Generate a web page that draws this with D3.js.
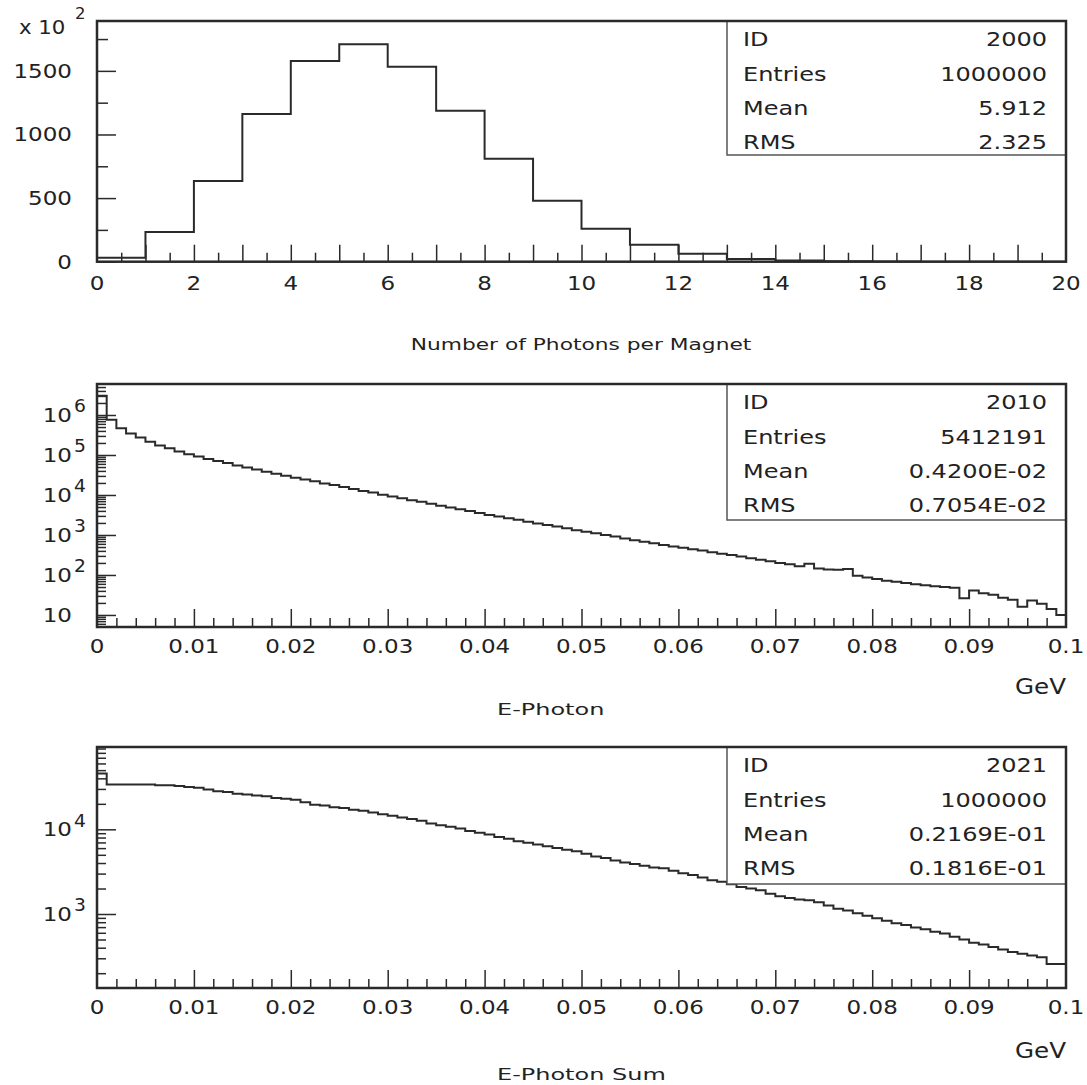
<!DOCTYPE html>
<html><head><meta charset="utf-8">
<script src="https://cdn.jsdelivr.net/npm/d3@7"></script>
<style>
body{margin:0;background:#fff}
text{font-family:"DejaVu Sans",sans-serif;fill:#222}
</style>
</head><body>
<svg id="c" width="1087" height="1085"></svg>
<script>
// ---------------- data ----------------
// Histogram 2000: number of photons per magnet, 20 bins of width 1 (0..20)
const nPhotonCounts = [3100, 23300, 63400, 116100, 157800, 170900, 153300, 118700, 81000, 48000,
                       25900, 13400, 6300, 2100, 1000, 400, 150, 50, 20, 0];
// Histogram 2010: E-Photon, 100 bins of 0.001 GeV (0..0.1)
const ePhotonCounts = [3020000, 759000, 468000, 347000, 275000, 214000, 174000, 148000, 123000, 105000,
  91200, 79400, 70800, 63100, 55000, 49000, 43600, 38000, 33900, 30200,
  26900, 24500, 21900, 19500, 17800, 15800, 14100, 12600, 11500, 10200,
  9120, 8320, 7410, 6760, 6030, 5370, 4900, 4370, 3980, 3550,
  3160, 2880, 2630, 2400, 2140, 1950, 1780, 1620, 1480, 1320,
  1200, 1100, 1000, 912, 813, 741, 676, 617, 562, 513,
  479, 437, 407, 372, 339, 316, 288, 263, 240, 219,
  200, 186, 166, 191, 145, 138, 135, 141, 95, 87,
  79, 72, 68, 63, 59, 55, 52, 50, 48, 26,
  41, 35, 32, 27, 24, 16, 23, 19, 14, 10];
// Histogram 2021: E-Photon Sum, 100 bins of 0.001 GeV (0..0.1)
const ePhotonSumCounts = [45700, 33900, 33900, 33900, 33900, 33900, 33100, 33100, 32400, 31600,
  30900, 29500, 28200, 27500, 26300, 25700, 25100, 24500, 23400, 22900,
  22400, 20900, 19500, 19100, 18200, 17800, 17000, 16600, 15800, 15100,
  14500, 13800, 13200, 12600, 11700, 11200, 10700, 10200, 9550, 9120,
  8710, 8130, 7760, 7240, 6920, 6610, 6310, 6030, 5750, 5500,
  5130, 4790, 4570, 4270, 4070, 3890, 3720, 3550, 3470, 3240,
  3020, 2880, 2690, 2510, 2400, 2240, 2090, 2000, 1910, 1740,
  1620, 1550, 1480, 1450, 1380, 1260, 1150, 1100, 1020, 955,
  891, 832, 776, 741, 692, 661, 617, 589, 537, 501,
  457, 437, 407, 380, 355, 339, 324, 309, 257, 257];

const topXLabels = [0, 2, 4, 6, 8, 10, 12, 14, 16, 18, 20];
const topYLabels = [0, 500, 1000, 1500];            // in units of 10^2
const eXLabels = [0, 0.01, 0.02, 0.03, 0.04, 0.05, 0.06, 0.07, 0.08, 0.09, 0.1];
const eXLabelText = ["0", "0.01", "0.02", "0.03", "0.04", "0.05", "0.06", "0.07", "0.08", "0.09", "0.1"];
const ePhotonYDecades = [1, 2, 3, 4, 5, 6];
const ePhotonSumYDecades = [3, 4];

const statNames = ["ID", "Entries", "Mean", "RMS"];
const stats2000 = ["2000", "1000000", "5.912", "2.325"];
const stats2010 = ["2010", "5412191", "0.4200E-02", "0.7054E-02"];
const stats2021 = ["2021", "1000000", "0.2169E-01", "0.1816E-01"];

const titles = ["Number of Photons per Magnet", "E-Photon", "E-Photon Sum"];

// ---------------- drawing ----------------
const svg = d3.select("#c");
const X0 = 97, X1 = 1066;
const INK = "#2a2a2a";

function txt(parent, x, y, s, size, sx, anchor) {
  return parent.append("text")
    .attr("transform", `translate(${x},${y}) scale(${sx},1)`)
    .attr("font-size", size)
    .attr("text-anchor", anchor || "start")
    .attr("dominant-baseline", "central")
    .text(s);
}

function ticks(g, axisGen, values, size, transform) {
  const a = g.append("g").attr("transform", transform).attr("color", INK)
    .call(axisGen.tickValues(values).tickSizeInner(-size).tickSizeOuter(0).tickFormat(""));
  a.select(".domain").remove();
  a.selectAll("line").attr("stroke-width", 1.5);
}

function histPath(counts, x, y, binW, fromBase) {
  const p = d3.path();
  counts.forEach((c, i) => {
    const xa = x(i * binW), xb = x((i + 1) * binW), yy = y(c);
    if (i === 0) {
      if (fromBase) { p.moveTo(xa, y.range()[0]); p.lineTo(xa, yy); }
      else p.moveTo(xa, yy);
    } else p.lineTo(xa, yy);
    p.lineTo(xb, yy);
  });
  if (fromBase) p.lineTo(x(counts.length * binW), y.range()[0]);
  return p.toString();
}

function statBox(g, top, bottom, vals) {
  g.append("rect").attr("x", 727).attr("y", top).attr("width", X1 - 727).attr("height", bottom - top)
    .attr("fill", "#fff").attr("stroke", "#555").attr("stroke-width", 1.5);
  statNames.forEach((n, i) => {
    const cy = top + 18 + 34.3 * i;
    txt(g, 743, cy, n, 20, 1.2, "start");
    txt(g, 1047, cy, vals[i], 20, 1.2, "end");
  });
}

function frame(g, top, bottom, id) {
  g.append("clipPath").attr("id", id).append("rect")
    .attr("x", X0).attr("y", top).attr("width", X1 - X0).attr("height", bottom - top);
}

// ===== Panel 1 =====
{
  const top = 21, bot = 261.7;
  const g = svg.append("g");
  const x = d3.scaleLinear([0, 20], [X0, X1]);
  const y = d3.scaleLinear([0, 189200], [bot, top]);
  frame(g, top, bot, "clip1");
  ticks(g, d3.axisBottom(x), d3.range(0.5, 20, 1), 9, `translate(0,${bot})`);
  ticks(g, d3.axisBottom(x), d3.range(1, 20, 1), 17, `translate(0,${bot})`);
  ticks(g, d3.axisLeft(y), [25000, 75000, 125000, 175000], 11, `translate(${X0},0)`);
  ticks(g, d3.axisLeft(y), topYLabels.map(v => v * 100), 19, `translate(${X0},0)`);
  g.append("path").attr("clip-path", "url(#clip1)").attr("d", histPath(nPhotonCounts, x, y, 1, true))
    .attr("fill", "none").attr("stroke", INK).attr("stroke-width", 2);
  statBox(g, top, 155, stats2000);
  g.append("rect").attr("x", X0).attr("y", top).attr("width", X1 - X0).attr("height", bot - top)
    .attr("fill", "none").attr("stroke", INK).attr("stroke-width", 2.5);
  topXLabels.forEach(v => txt(g, x(v), bot + 21, String(v), 20, 1.15, "middle"));
  topYLabels.forEach(v => txt(g, 72, y(v * 100), String(v), 20, 1.15, "end"));
  txt(g, 19, 27, "x 10", 19, 1.12, "start");
  txt(g, 75, 14, "2", 15, 1.1, "start");
  txt(g, 581, 345, titles[0], 16, 1.36, "middle");
}

function logPanel(top, bot, domain, counts, decades, stats, clipId, bottomTitleY, gevY, title) {
  const g = svg.append("g");
  const x = d3.scaleLinear([0, 0.1], [X0, X1]);
  const y = d3.scaleLog(domain, [bot, top]);
  frame(g, top, bot, clipId);
  const minorX = d3.range(1, 50).filter(i => i % 5 !== 0).map(i => i * 0.002);
  ticks(g, d3.axisBottom(x), minorX, 9, `translate(0,${bot})`);
  ticks(g, d3.axisBottom(x), eXLabels.slice(1, 10), 18, `translate(0,${bot})`);
  const minorY = [];
  for (let e = -1; e <= 7; e++) for (let m = 2; m <= 9; m++) {
    const v = m * Math.pow(10, e);
    if (v > domain[0] && v < domain[1]) minorY.push(v);
  }
  ticks(g, d3.axisLeft(y), minorY, 9, `translate(${X0},0)`);
  ticks(g, d3.axisLeft(y), decades.map(d => Math.pow(10, d)), 19, `translate(${X0},0)`);
  g.append("path").attr("clip-path", `url(#${clipId})`).attr("d", histPath(counts, x, y, 0.001, false))
    .attr("fill", "none").attr("stroke", INK).attr("stroke-width", 2);
  statBox(g, top, stats.bottom, stats.vals);
  g.append("rect").attr("x", X0).attr("y", top).attr("width", X1 - X0).attr("height", bot - top)
    .attr("fill", "none").attr("stroke", INK).attr("stroke-width", 2.5);
  eXLabels.forEach((v, i) => txt(g, x(v), bot + 19, eXLabelText[i], 20, 1.15, "middle"));
  decades.forEach(d => {
    const yy = y(Math.pow(10, d));
    txt(g, 72, yy, "10", 20, 1.15, "end");
    if (d > 1) txt(g, 74, yy - 9, String(d), 17, 1.1, "start");
  });
  txt(g, 1066, gevY, "GeV", 22, 1.12, "end");
  txt(g, 497, bottomTitleY, title, 16, 1.5, "start");
}

logPanel(384, 627, [5.0, 5.96e6], ePhotonCounts, ePhotonYDecades,
  {bottom: 520, vals: stats2010}, "clip2", 710, 686, titles[1]);
logPanel(747, 988, [133.7, 93800], ePhotonSumCounts, ePhotonSumYDecades,
  {bottom: 884, vals: stats2021}, "clip3", 1075, 1050, titles[2]);
</script>
</body></html>
